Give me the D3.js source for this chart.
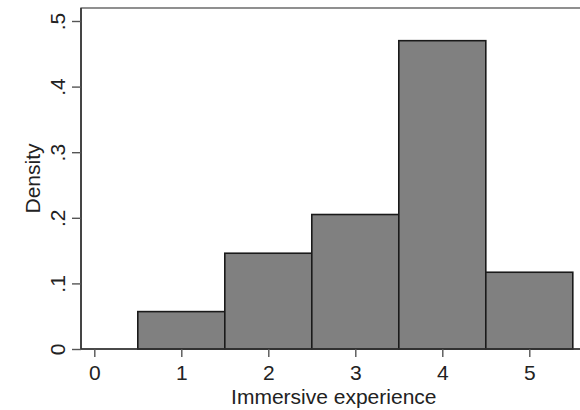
<!DOCTYPE html>
<html><head><meta charset="utf-8">
<script src="https://cdn.jsdelivr.net/npm/d3@7"></script>
<style>html,body{margin:0;padding:0;background:#fff;}svg{display:block;}</style>
</head><body>
<svg id="c" width="580" height="410"></svg>
<script>
const categories = [1, 2, 3, 4, 5];
const densities = [0.057, 0.146, 0.205, 0.470, 0.117];
const xTicks = [0, 1, 2, 3, 4, 5];
const yTicks = [0, 0.1, 0.2, 0.3, 0.4, 0.5];
const yTickLabels = ["0", ".1", ".2", ".3", ".4", ".5"];
const binWidth = 1;

const svg = d3.select("#c");
const font = "'Liberation Sans', Arial, sans-serif";
const x = d3.scaleLinear().domain([0, 5]).range([94.3, 529.3]);
const y = d3.scaleLinear().domain([0, 0.5]).range([349, 21]);
const plotLeft = 81, plotTop = 8, plotRight = 600;

// plot region frame
svg.append("rect").attr("x", plotLeft).attr("y", plotTop)
  .attr("width", plotRight - plotLeft).attr("height", y(0) - plotTop)
  .attr("fill", "none").attr("stroke", "#555").attr("stroke-width", 1.3);

// bars
svg.append("g").selectAll("rect").data(categories).join("rect")
  .attr("x", d => x(d - binWidth / 2))
  .attr("y", (d, i) => y(densities[i]))
  .attr("width", d => x(d + binWidth / 2) - x(d - binWidth / 2))
  .attr("height", (d, i) => y(0) - y(densities[i]))
  .attr("fill", "#808080").attr("stroke", "#1a1a1a").attr("stroke-width", 1.6);

// x axis
const gx = svg.append("g").attr("transform", `translate(0,${y(0)})`)
  .call(d3.axisBottom(x).tickValues(xTicks).tickFormat(d3.format("d")).tickSize(8).tickSizeOuter(0).tickPadding(8));
gx.select(".domain").attr("d", `M${plotLeft},0H${plotRight}`).attr("stroke", "#333").attr("stroke-width", 1.6);
gx.selectAll(".tick line").attr("stroke", "#555").attr("stroke-width", 1.4);
gx.selectAll(".tick text").attr("font-family", font).attr("font-size", 21).attr("fill", "#222");

// y axis
const gy = svg.append("g").attr("transform", `translate(${plotLeft},0)`)
  .call(d3.axisLeft(y).tickValues(yTicks).tickFormat((d, i) => yTickLabels[i]).tickSize(9).tickSizeOuter(0));
gy.select(".domain").attr("d", `M0,${plotTop}V${y(0)}`).attr("stroke", "#333").attr("stroke-width", 1.6);
gy.selectAll(".tick line").attr("stroke", "#555").attr("stroke-width", 1.4);
gy.selectAll(".tick text")
  .attr("x", null).attr("dy", null)
  .attr("transform", "translate(-16,0) rotate(-90)")
  .attr("text-anchor", "middle")
  .attr("font-family", font).attr("font-size", 21).attr("fill", "#222");

// axis titles
svg.append("text").attr("x", (x(0) + x(5)) / 2 + 22).attr("y", 404)
  .attr("text-anchor", "middle").attr("font-family", font).attr("font-size", 21).attr("fill", "#222")
  .text("Immersive experience");
svg.append("text").attr("transform", `translate(40,${(y(0) + plotTop) / 2}) rotate(-90)`)
  .attr("text-anchor", "middle").attr("font-family", font).attr("font-size", 21).attr("fill", "#222")
  .text("Density");
</script>
</body></html>
